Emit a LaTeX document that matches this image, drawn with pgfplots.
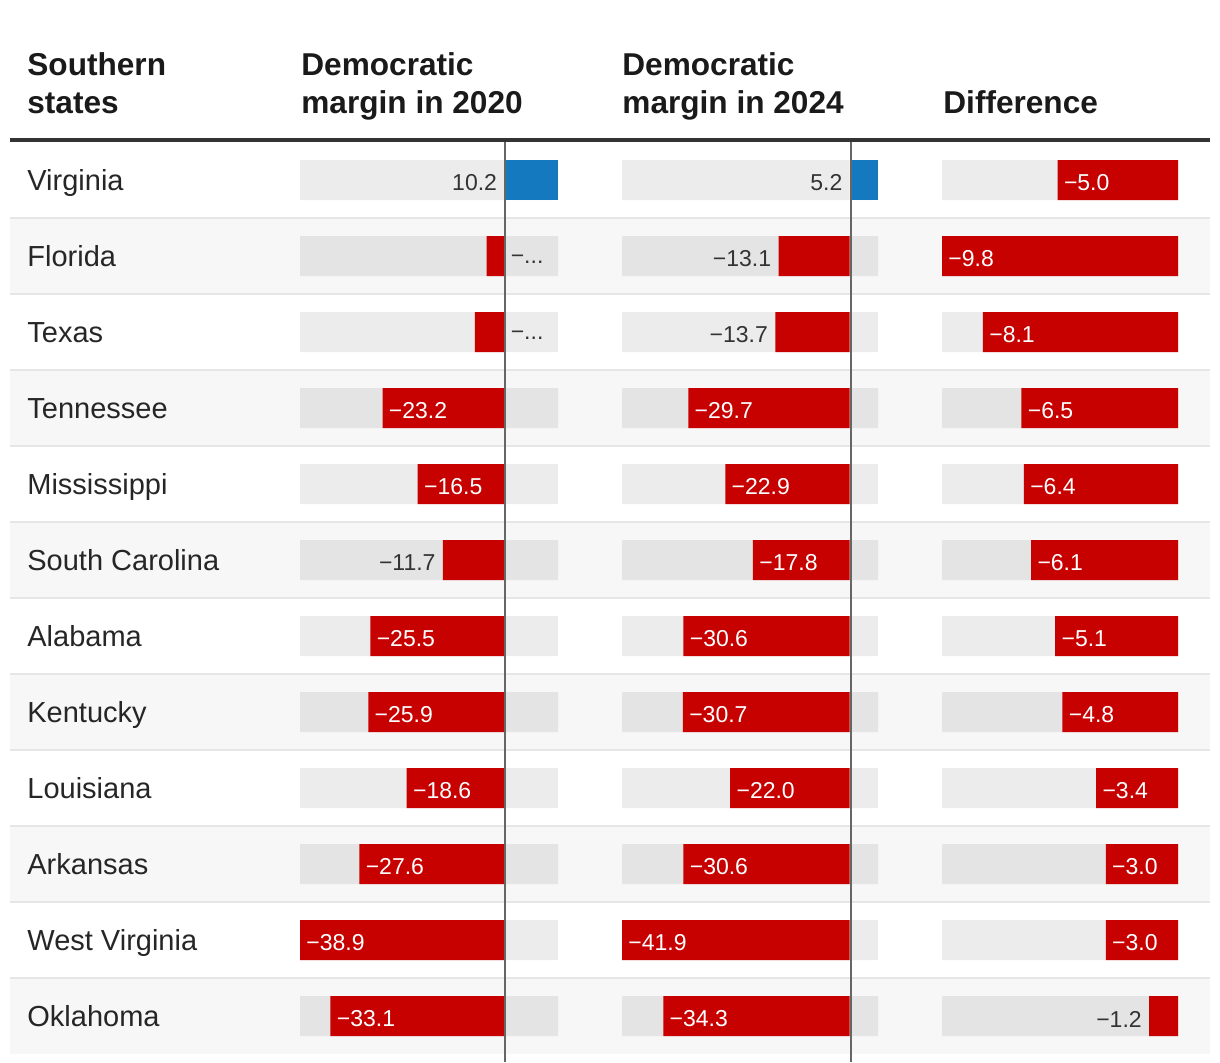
\documentclass[border=0pt]{standalone}
\usepackage{pgfplots}
\pgfplotsset{compat=1.18}
\usepackage{fontspec}
\setmainfont{Liberation Sans}
\definecolor{demred}{HTML}{C70000}
\definecolor{demblue}{HTML}{1479BE}
\definecolor{bgA}{HTML}{ECECEC}
\definecolor{bgB}{HTML}{E4E4E4}
\definecolor{rowgrey}{HTML}{F7F7F7}
\definecolor{sepline}{HTML}{E6E6E6}
\definecolor{zeroline}{HTML}{666666}
\definecolor{txt}{HTML}{1A1A1A}
\definecolor{stxt}{HTML}{262626}
\definecolor{lbl}{HTML}{333333}
\definecolor{rule}{HTML}{333333}

\pgfplotsset{
  col/.style={scale only axis, height=456pt, ymin=-0.5, ymax=11.5, y dir=reverse,
    hide axis, clip=false, anchor=north west},
  bgbar/.style={xbar, bar width=20pt, bar shift=0pt, draw=none, forget plot},
  databar/.style={xbar, bar width=20pt, bar shift=0pt, draw=none, forget plot},
  lblbase/.style={draw=none, mark=none, forget plot, nodes near coords, point meta=explicit symbolic},
  inlbl/.style={lblbase, nodes near coords style={anchor=west, inner sep=0pt, xshift=3pt, yshift=-1.5pt,
     text=white, font=\fontsize{11.5}{13}\selectfont}},
  outlbl/.style={lblbase, nodes near coords style={anchor=east, inner sep=0pt, xshift=-3.5pt, yshift=-1.5pt,
     text=lbl, font=\fontsize{11.5}{13}\selectfont}},
  rightlbl/.style={lblbase, nodes near coords style={anchor=west, inner sep=0pt, xshift=3pt, yshift=-1.5pt,
     text=lbl, font=\fontsize{11.5}{13}\selectfont}},
}

\begin{document}
\begin{tikzpicture}
\useasboundingbox (0,0) rectangle (610pt,-531pt);
% row backgrounds
\foreach \k in {1,3,5,7,9,11} {
  \fill[rowgrey] (5pt,{-(71+38*\k)*1pt}) rectangle (605pt,{-(71+38*(\k+1))*1pt});
}
\foreach \k in {0,...,10} {
  \draw[sepline, line width=1pt] (5pt,{-(109+38*\k)*1pt}) -- (605pt,{-(109+38*\k)*1pt});
}
% header
\draw[rule, line width=2pt] (5pt,-69.75pt) -- (605pt,-69.75pt);
\begin{scope}[every node/.style={anchor=base west, inner sep=0pt, text=txt, font=\bfseries\fontsize{15.8}{18}\selectfont}]
\node at (13.5pt,-37.5pt) {Southern};
\node at (13.5pt,-56.5pt) {states};
\node at (150.5pt,-37.5pt) {Democratic};
\node at (150.5pt,-56.5pt) {margin in 2020};
\node at (311pt,-37.5pt) {Democratic};
\node at (311pt,-56.5pt) {margin in 2024};
\node at (471.5pt,-56.5pt) {Difference};
\end{scope}
% state names
\begin{scope}[every node/.style={anchor=base west, inner sep=0pt, text=stxt, font=\fontsize{14.5}{17}\selectfont}]
\foreach \s [count=\i from 0] in {Virginia,Florida,Texas,Tennessee,Mississippi,South Carolina,Alabama,Kentucky,Louisiana,Arkansas,West Virginia,Oklahoma} {
  \node at (13.5pt,{-(95+38*\i)*1pt}) {\s};
}
\end{scope}

% ---------- 2020 ----------
\begin{axis}[col, at={(150pt,-71pt)}, width=129pt, xmin=-38.9, xmax=10.2]
\addplot[bgbar, fill=bgA] coordinates {(-38.9,0) (-38.9,2) (-38.9,4) (-38.9,6) (-38.9,8) (-38.9,10)};
\addplot[bgbar, fill=bgA] coordinates {(10.2,0) (10.2,2) (10.2,4) (10.2,6) (10.2,8) (10.2,10)};
\addplot[bgbar, fill=bgB] coordinates {(-38.9,1) (-38.9,3) (-38.9,5) (-38.9,7) (-38.9,9) (-38.9,11)};
\addplot[bgbar, fill=bgB] coordinates {(10.2,1) (10.2,3) (10.2,5) (10.2,7) (10.2,9) (10.2,11)};
\addplot[databar, fill=demred] coordinates {(-3.4,1) (-5.6,2) (-23.2,3) (-16.5,4) (-11.7,5) (-25.5,6) (-25.9,7) (-18.6,8) (-27.6,9) (-38.9,10) (-33.1,11)};
\addplot[databar, fill=demblue] coordinates {(10.2,0)};
\addplot[inlbl] coordinates {(-23.2,3)[−23.2] (-16.5,4)[−16.5] (-25.5,6)[−25.5] (-25.9,7)[−25.9] (-18.6,8)[−18.6] (-27.6,9)[−27.6] (-38.9,10)[−38.9] (-33.1,11)[−33.1]};
\addplot[outlbl] coordinates {(0,0)[10.2] (-11.7,5)[−11.7]};
\addplot[rightlbl] coordinates {(0,1)[−...] (0,2)[−...]};
\draw[zeroline, line width=1pt] ([xshift=0.5pt]axis cs:0,-0.5) -- ([xshift=0.5pt]axis cs:0,11.605);
\end{axis}

% ---------- 2024 ----------
\begin{axis}[col, at={(311pt,-71pt)}, width=128pt, xmin=-41.9, xmax=5.2]
\addplot[bgbar, fill=bgA] coordinates {(-41.9,0) (-41.9,2) (-41.9,4) (-41.9,6) (-41.9,8) (-41.9,10)};
\addplot[bgbar, fill=bgA] coordinates {(5.2,0) (5.2,2) (5.2,4) (5.2,6) (5.2,8) (5.2,10)};
\addplot[bgbar, fill=bgB] coordinates {(-41.9,1) (-41.9,3) (-41.9,5) (-41.9,7) (-41.9,9) (-41.9,11)};
\addplot[bgbar, fill=bgB] coordinates {(5.2,1) (5.2,3) (5.2,5) (5.2,7) (5.2,9) (5.2,11)};
\addplot[databar, fill=demred] coordinates {(-13.1,1) (-13.7,2) (-29.7,3) (-22.9,4) (-17.8,5) (-30.6,6) (-30.7,7) (-22.0,8) (-30.6,9) (-41.9,10) (-34.3,11)};
\addplot[databar, fill=demblue] coordinates {(5.2,0)};
\addplot[inlbl] coordinates {(-29.7,3)[−29.7] (-22.9,4)[−22.9] (-17.8,5)[−17.8] (-30.6,6)[−30.6] (-30.7,7)[−30.7] (-22.0,8)[−22.0] (-30.6,9)[−30.6] (-41.9,10)[−41.9] (-34.3,11)[−34.3]};
\addplot[outlbl] coordinates {(0,0)[5.2] (-13.1,1)[−13.1] (-13.7,2)[−13.7]};
\draw[zeroline, line width=1pt] ([xshift=0.5pt]axis cs:0,-0.5) -- ([xshift=0.5pt]axis cs:0,11.605);
\end{axis}

% ---------- Difference ----------
\begin{axis}[col, at={(471pt,-71pt)}, width=118pt, xmin=-9.8, xmax=0]
\addplot[bgbar, fill=bgA] coordinates {(-9.8,0) (-9.8,2) (-9.8,4) (-9.8,6) (-9.8,8) (-9.8,10)};
\addplot[bgbar, fill=bgB] coordinates {(-9.8,1) (-9.8,3) (-9.8,5) (-9.8,7) (-9.8,9) (-9.8,11)};
\addplot[databar, fill=demred] coordinates {(-5.0,0) (-9.8,1) (-8.1,2) (-6.5,3) (-6.4,4) (-6.1,5) (-5.1,6) (-4.8,7) (-3.4,8) (-3.0,9) (-3.0,10) (-1.2,11)};
\addplot[inlbl] coordinates {(-5.0,0)[−5.0] (-9.8,1)[−9.8] (-8.1,2)[−8.1] (-6.5,3)[−6.5] (-6.4,4)[−6.4] (-6.1,5)[−6.1] (-5.1,6)[−5.1] (-4.8,7)[−4.8] (-3.4,8)[−3.4] (-3.0,9)[−3.0] (-3.0,10)[−3.0]};
\addplot[outlbl] coordinates {(-1.2,11)[−1.2]};
\end{axis}
\end{tikzpicture}
\end{document}
